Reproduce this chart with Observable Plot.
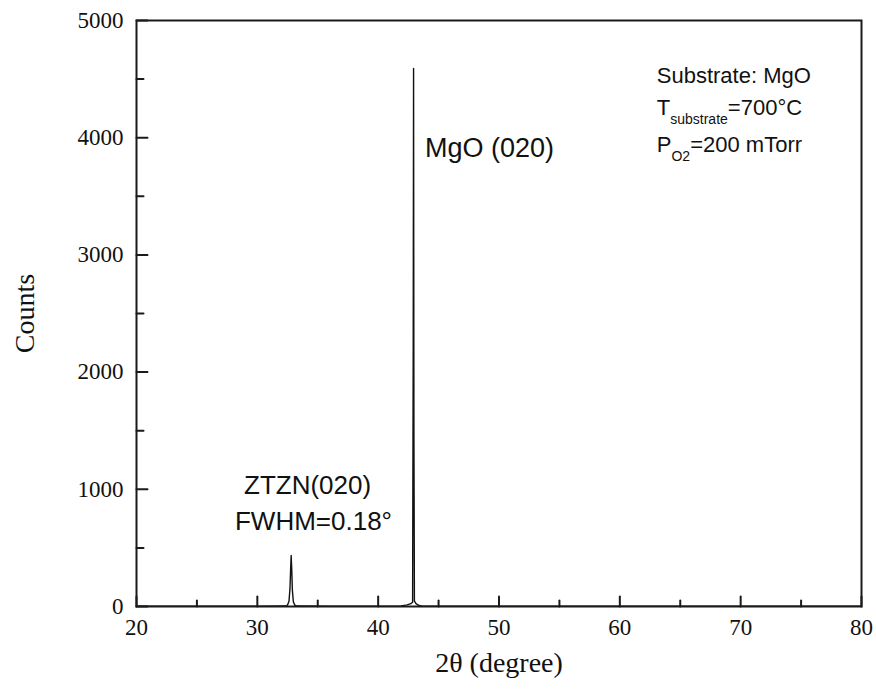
<!DOCTYPE html>
<html>
<head>
<meta charset="utf-8">
<script src="https://cdn.jsdelivr.net/npm/d3@7"></script>
<script src="https://cdn.jsdelivr.net/npm/@observablehq/plot@0.6"></script>
<style>
  body { margin: 0; background: #fff; }
  #chart svg { font-family: "Liberation Serif", "Times New Roman", serif; }
</style>
</head>
<body>
<div id="chart"></div>
<script>
// XRD scan of a ZTZN film grown on MgO: diffraction angle 2θ (degrees) and detector counts
const twoTheta = [20, 25, 30, 32.3, 32.5, 32.62, 32.7, 32.75, 32.8, 32.85, 32.9, 32.98, 33.1, 33.3, 36, 40, 41.9, 42.4, 42.7, 42.85, 42.9, 42.93, 42.96, 43.0, 43.15, 43.4, 43.6, 50, 60, 70, 80];
const counts   = [2, 3, 3, 4, 12, 45, 150, 300, 435, 310, 140, 40, 12, 4, 3, 3, 5, 14, 24, 36, 2180, 4590, 1430, 45, 22, 8, 4, 3, 2, 2, 2];

// axis ticks
const xMajorTicks = [20, 30, 40, 50, 60, 70, 80];
const xMinorTicks = [25, 35, 45, 55, 65, 75];
const yMajorTicks = [0, 1000, 2000, 3000, 4000, 5000];
const yMinorTicks = [500, 1500, 2500, 3500, 4500];

// axis titles
const xTitle = "2θ (degree)";
const yTitle = "Counts";

// text notes: anchor in data units, font size, and pieces (plain or subscript)
const notes = [
  {x: 43.92, y: 3830, size: 27, parts: [["MgO (020)", ""]]},
  {x: 28.94, y: 956, size: 26, parts: [["ZTZN(020)", ""]]},
  {x: 28.19, y: 648, size: 26, parts: [["FWHM=0.18°", ""]]},
  {x: 63.1, y: 4462, size: 22, parts: [["Substrate: MgO", ""]]},
  {x: 63.1, y: 4189, size: 22, parts: [["T", ""], ["substrate", "sub"], ["=700°C", ""]]},
  {x: 63.1, y: 3874, size: 22, parts: [["P", ""], ["O2", "sub"], ["=200 mTorr", ""]]}
];

const scan = twoTheta.map((t, i) => ({t, c: counts[i]}));

// custom mark: sans-serif notes with subscripts
function noteMark(index, {x, y}) {
  const g = d3.create("svg:g")
    .attr("font-family", "'Liberation Sans', Arial, Helvetica, sans-serif")
    .attr("text-anchor", "start")
    .attr("fill", "#111");
  for (const n of notes) {
    const t = g.append("text")
      .attr("x", x(n.x))
      .attr("y", y(n.y))
      .attr("font-size", n.size);
    let shifted = false;
    for (const [str, kind] of n.parts) {
      const s = t.append("tspan").text(str);
      if (kind === "sub") {
        s.attr("font-size", 14).attr("dy", 9);
        shifted = true;
      } else if (shifted) {
        s.attr("dy", -9);
        shifted = false;
      }
    }
  }
  return g.node();
}

// straight tick stroke drawn from the axis line into the plot
const tickShape = {
  draw(context, l) {
    context.moveTo(0, 0);
    context.lineTo(0, -l);
  }
};

const axisStroke = "#1a1a1a";
const tickStyle = {shape: tickShape, anchor: "start", stroke: axisStroke, strokeWidth: 2};

const chart = Plot.plot({
  width: 876,
  height: 691,
  marginLeft: 136,
  marginRight: 15,
  marginTop: 20,
  marginBottom: 85,
  style: {background: "white", color: "#111", fontSize: "23px"},
  x: {domain: [20, 80]},
  y: {domain: [0, 5000]},
  marks: [
    // inward tick marks
    Plot.vector(xMajorTicks, {x: d => d, frameAnchor: "bottom", rotate: 0, length: 10, ...tickStyle}),
    Plot.vector(xMinorTicks, {x: d => d, frameAnchor: "bottom", rotate: 0, length: 6, ...tickStyle}),
    Plot.vector(yMajorTicks, {y: d => d, frameAnchor: "left", rotate: 90, length: 11, ...tickStyle}),
    Plot.vector(yMinorTicks, {y: d => d, frameAnchor: "left", rotate: 90, length: 7, ...tickStyle}),
    // tick labels
    Plot.axisX(xMajorTicks, {anchor: "bottom", tickSize: 0, tickPadding: 12, fontSize: 23, tickFormat: d => String(d), label: null}),
    Plot.axisY(yMajorTicks, {anchor: "left", tickSize: 0, tickPadding: 13, fontSize: 23, tickFormat: d => String(d), label: null}),
    // axis titles
    Plot.text([yTitle], {frameAnchor: "left", dx: -111, rotate: -90, textAnchor: "middle", lineAnchor: "middle", fontSize: 28, fill: "#111"}),
    Plot.text([xTitle], {frameAnchor: "bottom", dy: 65, fontSize: 28, fill: "#111"}),
    // diffraction pattern
    Plot.line(scan, {x: "t", y: "c", stroke: "#111", strokeWidth: 1.4}),
    Plot.frame({stroke: axisStroke, strokeWidth: 2}),
    noteMark
  ]
});

document.getElementById("chart").appendChild(chart);
</script>
</body>
</html>
